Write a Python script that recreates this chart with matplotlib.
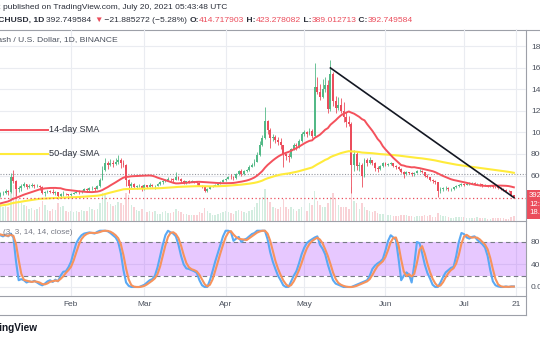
import matplotlib
matplotlib.use("Agg")
import matplotlib.pyplot as plt
from matplotlib.lines import Line2D
from matplotlib.patches import Rectangle
import numpy as np
import pandas as pd

# ---------------- data ----------------
start_date = "2021-01-04"

# closes before the visible range, only used to warm up the moving averages
prior_closes = [265, 270, 280, 285, 285, 295, 320, 310, 330, 350, 330, 285, 290, 300, 305, 320,
                305, 300, 310, 295, 300, 305, 300, 280, 285, 280, 270, 280, 290, 285, 285, 305,
                320, 315, 325, 335, 310, 300, 290, 300, 320, 330, 340, 350, 340, 340, 343,
                342, 352, 418]

closes = [405, 435, 438, 452, 445, 585, 550, 470, 480, 505, 520, 495, 505, 515, 500, 505, 495, 440, 445, 455, 448, 440, 445, 410, 425, 430, 425, 420,
          430, 440, 450, 445, 460, 470, 465, 480, 485, 478, 500, 560, 650, 720, 700, 720, 705, 725, 740, 715, 700, 560, 500, 520, 490, 500, 505, 480,
          510, 495, 515, 500, 505, 520, 540, 548, 560, 570, 565, 560, 590, 565, 545, 540, 545, 540, 545, 538, 532, 505, 495, 460, 470, 495, 505, 510, 525, 540, 555,
          570, 590, 585, 575, 610, 640, 610, 640, 650, 680, 700, 730, 790, 880, 950, 1110, 1020, 950, 960, 930, 910, 880, 800, 780, 770, 850, 880, 870, 920, 985,
          1000, 990, 1010, 970, 1420, 1380, 1330, 1400, 1440, 1220, 1540, 1290, 1230, 1260, 1200, 1140, 1100, 1080, 700, 800, 690, 700, 600, 740, 720, 740, 720, 670, 660, 690, 715,
          700, 708, 715, 690, 680, 665, 630, 615, 628, 622, 610, 625, 640, 645, 630, 600, 585, 555, 545, 535, 460, 470, 480, 485, 470, 475, 490, 505, 515, 520,
          515, 520, 525, 530, 520, 522, 518, 505, 510, 500, 505, 495, 490, 488, 475, 465, 460, 455, 414.717903, 392.749584]

highs = [432, 445, 452, 470, 468, 625, 650, 555, 505, 520, 535, 525, 520, 530, 520, 525, 515, 500, 455, 465, 462, 470, 455, 450, 435, 455, 440, 432,
         440, 448, 460, 462, 468, 485, 480, 495, 500, 495, 510, 580, 690, 760, 735, 750, 740, 760, 790, 760, 740, 705, 570, 540, 530, 515, 525, 510,
         520, 515, 530, 525, 515, 530, 548, 560, 572, 585, 580, 575, 632, 600, 575, 555, 552, 560, 558, 552, 545, 540, 512, 505, 480, 500, 512, 520, 535, 550, 565,
         580, 600, 610, 595, 625, 655, 660, 650, 665, 700, 715, 750, 820, 920, 975, 1240, 1115, 1040, 985, 975, 960, 950, 880, 810, 810, 860, 905, 900, 935, 1000,
         1020, 1015, 1040, 1030, 1645, 1520, 1450, 1500, 1520, 1490, 1675, 1560, 1340, 1330, 1320, 1280, 1190, 1150, 1100, 840, 830, 730, 720, 760, 760, 770, 745, 725, 690, 700, 725,
         730, 720, 730, 720, 700, 690, 670, 640, 640, 635, 630, 632, 648, 660, 650, 635, 610, 590, 565, 555, 540, 490, 495, 500, 492, 485, 495, 512, 525, 530,
         530, 532, 535, 540, 535, 532, 530, 522, 520, 515, 512, 510, 500, 498, 492, 480, 472, 468, 460, 423.278082]

lows = [372, 398, 418, 430, 420, 440, 530, 410, 445, 460, 495, 470, 485, 490, 485, 490, 465, 425, 410, 438, 435, 430, 420, 380, 400, 410, 415, 405,
        410, 425, 435, 430, 440, 455, 445, 455, 465, 460, 470, 495, 555, 640, 660, 690, 680, 695, 710, 670, 680, 500, 440, 480, 480, 470, 490, 460,
        465, 480, 490, 490, 475, 500, 515, 525, 540, 550, 548, 540, 555, 555, 530, 520, 525, 530, 535, 530, 515, 500, 485, 450, 445, 470, 490, 500, 505, 522, 535,
        550, 565, 570, 560, 570, 605, 595, 605, 630, 645, 675, 690, 725, 780, 870, 940, 990, 860, 920, 900, 880, 850, 680, 740, 730, 765, 840, 840, 860, 910,
        970, 960, 975, 950, 960, 1360, 1300, 1320, 1380, 1180, 1200, 1250, 1180, 1210, 1180, 1100, 1050, 1060, 440, 640, 650, 640, 490, 590, 690, 710, 700, 640, 630, 650, 680,
        690, 685, 700, 680, 665, 655, 620, 580, 605, 610, 595, 600, 620, 630, 620, 590, 575, 545, 530, 520, 400, 440, 455, 465, 455, 460, 465, 480, 495, 505,
        505, 508, 512, 518, 512, 510, 505, 495, 498, 490, 492, 485, 480, 478, 465, 455, 450, 445, 405, 389.012713]

volumes = [45, 40, 35, 38, 35, 80, 90, 85, 55, 45, 40, 38, 30, 32, 28, 30, 35, 50, 40, 28, 25, 30, 28, 45, 35, 38, 25, 22,
           25, 22, 25, 22, 28, 26, 24, 35, 30, 28, 30, 45, 70, 65, 48, 42, 38, 40, 48, 45, 40, 70, 65, 40, 35, 28, 25, 30,
           28, 22, 24, 22, 25, 18, 18, 22, 24, 20, 20, 22, 30, 25, 22, 18, 18, 16, 15, 14, 15, 22, 20, 32, 25, 20, 16, 14, 18, 20, 22,
           25, 22, 20, 18, 25, 28, 25, 22, 20, 25, 28, 35, 45, 55, 60, 80, 55, 48, 35, 32, 30, 35, 55, 35, 30, 35, 30, 25, 30, 35,
           30, 25, 45, 40, 75, 50, 40, 35, 35, 45, 60, 70, 55, 40, 35, 35, 35, 30, 85, 50, 45, 30, 45, 35, 28, 25, 22, 25, 20, 18, 18,
           18, 15, 15, 12, 12, 12, 16, 15, 14, 12, 12, 10, 12, 12, 12, 14, 12, 14, 10, 10, 20, 15, 12, 12, 10, 8, 8, 10, 10, 9,
           9, 8, 7, 8, 8, 9, 8, 8, 7, 6, 6, 7, 7, 7, 8, 7, 6, 6, 10, 12]

stoch_k = [95, 92, 90, 93, 90, 95, 88, 45, 12, 14, 12, 8, 10, 9, 11, 8, 5, 3, 6, 10, 12, 9, 13, 10, 20, 27, 28, 35,
           45, 62, 78, 86, 92, 95, 96, 97, 96, 95, 98, 100, 100, 100, 99, 96, 92, 88, 80, 60, 30, 8, 2, 0, 0, 0, 0, 2,
           4, 8, 12, 14, 20, 35, 55, 75, 92, 100, 97, 95, 90, 75, 55, 40, 33, 32, 30, 28, 25, 12, 3, 0, 0, 12, 28, 45, 60, 75, 90,
           100, 100, 98, 82, 86, 89, 80, 84, 86, 90, 94, 96, 100, 100, 100, 100, 85, 62, 45, 32, 20, 12, 3, 0, 0, 10, 20, 28, 42, 58,
           70, 78, 82, 85, 88, 90, 75, 68, 58, 40, 25, 12, 6, 4, 2, 0, 0, 0, 0, 2, 4, 6, 8, 10, 12, 20, 32, 38, 42, 45, 50,
           65, 82, 92, 88, 84, 50, 12, 20, 26, 22, 8, 40, 80, 78, 60, 40, 25, 15, 4, 0, 0, 8, 18, 26, 30, 34, 36, 55, 80, 96,
           94, 88, 86, 89, 90, 84, 80, 76, 70, 55, 30, 10, 3, 1, 0, 0, 1, 0, 1, 1]

fast_len = 20    # red average
slow_span = 100  # yellow average (exponential)

price_ticks = [600, 800, 1000, 1200, 1400, 1600, 1800]
stoch_ticks = [0, 40, 80]
stoch_band = (20, 80)
tick_dates = ["2021-02-01", "2021-03-01", "2021-04-01", "2021-05-01", "2021-06-01", "2021-07-01", "2021-07-21"]
tick_labels = ["Feb", "Mar", "Apr", "May", "Jun", "Jul", "21"]
last_price = 392.749584
level_price = 610
trend_dates = ["2021-05-11", "2021-07-20"]
trend_prices = [1600, 395]

# ---------------- style ----------------
UP = "#53b987"
DOWN = "#eb4d5c"
FONT = ["Liberation Sans", "DejaVu Sans"]
TXT = "#2a2e39"
GRID = "#eaecf1"
SEP = "#9da0a8"
RED_MA = "#f4515c"
YEL_MA = "#ffeb3b"

W, H = 540, 340
PX_DAY = 2.62
X0 = 0.878

fig = plt.figure(figsize=(W / 100, H / 100), dpi=100)
fig.patch.set_facecolor("white")
renderer = fig.canvas.get_renderer()


def pane(top, bottom):
    return fig.add_axes([0, 1 - bottom / H, 526 / W, (bottom - top) / H])


def day(d):
    return (pd.Timestamp(d) - pd.Timestamp(start_date)).days


def width_of(s, size, weight="normal"):
    t = fig.text(0, 0, s, fontsize=size, fontweight=weight, family=FONT)
    w = t.get_window_extent(renderer=renderer).width
    t.remove()
    return w


def fit(s, target, weight="normal", base=7.0):
    return base * target / width_of(s, base, weight)


def ftext(x, y, s, size, color=TXT, weight="normal", ha="left"):
    fig.text(x / W, 1 - y / H, s, fontsize=size, color=color, fontweight=weight,
             family=FONT, ha=ha, va="center")


def fline(xs, ys, color=SEP, lw=0.8):
    fig.add_artist(Line2D([v / W for v in xs], [1 - v / H for v in ys], color=color, lw=lw))


ax = pane(29, 221)
axs = pane(221, 296)
for a in (ax, axs):
    a.set_xlim(X0, X0 + 526 / PX_DAY)
    for sp in a.spines.values():
        sp.set_visible(False)
    a.tick_params(length=0)
ax.set_ylim(177, 1962)
axs.set_ylim(-16, 117.3)

n = len(closes)
x = np.arange(n)
c = np.array(closes, dtype=float)
o = np.r_[prior_closes[-1], c[:-1]]
hi = np.maximum(np.array(highs, dtype=float), np.maximum(o, c))
lo = np.minimum(np.array(lows, dtype=float), np.minimum(o, c))
colors = np.where(c >= o, UP, DOWN)

tick_x = [day(d) for d in tick_dates]

# grid
for p in price_ticks:
    ax.axhline(p, color=GRID, lw=0.8, zorder=0)
for tx in tick_x:
    ax.axvline(tx, color=GRID, lw=0.8, zorder=0)
    axs.axvline(tx, color=GRID, lw=0.8, zorder=0)
for v in (0, 40):
    axs.axhline(v, color=GRID, lw=0.8, zorder=0)

# volume underneath the candles
axv = ax.twinx()
axv.set_ylim(0, 100 * 192 / 40)
axv.bar(x, volumes, width=0.55, color=colors, alpha=0.25, lw=0)
axv.set_axis_off()
axv.set_zorder(1)
ax.set_zorder(2)
ax.patch.set_visible(False)

# candles
ax.vlines(x, lo, hi, colors=colors, lw=0.6, zorder=3)
body = np.maximum(np.abs(c - o), 4)
ax.bar(x, body, bottom=np.minimum(o, c), width=0.72, color=colors, lw=0, zorder=4)

# moving averages
allc = pd.Series(prior_closes + closes, dtype=float)
fast_ma = allc.rolling(fast_len).mean().to_numpy()[len(prior_closes):]
slow_ma = allc.ewm(span=slow_span).mean().to_numpy()[len(prior_closes):]
ax.plot(x, slow_ma, color=YEL_MA, lw=1.5, zorder=5)
ax.plot(x, fast_ma, color=RED_MA, lw=1.4, zorder=6)

# price levels and trend line
ax.axhline(level_price, color="#9598a1", lw=0.8, ls=(0, (1, 1.5)), zorder=2)
ax.axhline(last_price, color=DOWN, lw=0.9, ls=(0, (1, 2)), zorder=7)
ax.plot([day(d) for d in trend_dates], trend_prices, color="#131722", lw=1.2, zorder=8)

# drawn labels for the averages
leg_x = [X0 - 1, X0 + 48 / PX_DAY]
ax.plot(leg_x, [1023, 1023], color=RED_MA, lw=1.4, zorder=6, clip_on=False)
ax.plot(leg_x, [800, 800], color=YEL_MA, lw=1.5, zorder=6, clip_on=False)
leg_size = fit("14-day SMA", 50)
ftext(49, 130, "14-day SMA", leg_size)
ftext(49, 154, "50-day SMA", leg_size)

# price axis
ax.yaxis.tick_right()
ax.set_yticks(price_ticks)
ax.set_yticklabels([f"{p}.00" for p in price_ticks])
ax.tick_params(axis="y", labelsize=6.0, labelcolor="#4c525e", pad=3.6)
for lab in ax.get_yticklabels():
    lab.set_family(FONT)
ax.set_xticks([])

# stochastic RSI
k = pd.Series(stoch_k, dtype=float)
d = k.rolling(3, min_periods=1).mean()
axs.axhspan(stoch_band[0], stoch_band[1], color="#9915ff", alpha=0.23, lw=0, zorder=1)
for v in stoch_band:
    axs.axhline(v, color="#787b86", lw=0.8, ls=(0, (4, 3)), zorder=2)
axs.plot(x, k, color="#5aa9f4", lw=1.5, zorder=3)
axs.plot(x, d, color="#f7935c", lw=1.5, zorder=4)
axs.yaxis.tick_right()
axs.set_yticks(stoch_ticks)
axs.set_yticklabels([f"{v:.2f}" for v in stoch_ticks])
axs.tick_params(axis="y", labelsize=6.0, labelcolor="#4c525e", pad=3.2)
axs.set_xticks(tick_x)
axs.set_xticklabels(tick_labels)
axs.tick_params(axis="x", labelsize=6.0, labelcolor="#4c525e", pad=3.5)
for lab in axs.get_xticklabels() + axs.get_yticklabels():
    lab.set_family(FONT)
ftext(3, 232, "(3, 3, 14, 14, close)", fit("(3, 3, 14, 14, close)", 70), color="#787b86")

# pane borders
fline([0, 540], [29.5, 29.5])
fline([0, 526], [221, 221])
fline([0, 526], [296, 296])
fline([0, 526], [315, 315])
fline([526, 526], [29.5, 315])

# last price tag
fig.add_artist(Rectangle((526 / W, 1 - 219 / H), 16 / W, 29 / H, transform=fig.transFigure,
                         color=DOWN, lw=0))
for yy, s in zip([196, 205, 213], ["392.749584", "12:16:12", "18.54K"]):
    ftext(529, yy, s, 5.6, color="white")

# header
s1 = fit("published on TradingView.com, July 20, 2021 05:43:48 UTC", 222)
ftext(227, 7.5, "2 published on TradingView.com, July 20, 2021 05:43:48 UTC", s1, ha="right")

parts = [("BCHUSD, 1D ", TXT, "bold"), ("392.749584 ", TXT, "normal"), ("\u25bc", DOWN, "normal"),
         (" \u221221.885272 (\u22125.28%) ", TXT, "normal"), ("O:", TXT, "bold"),
         ("414.717903", DOWN, "normal"), (" H:", TXT, "bold"), ("423.278082", DOWN, "normal"),
         (" L:", TXT, "bold"), ("389.012713", DOWN, "normal"), (" C:", TXT, "bold"),
         ("392.749584", DOWN, "normal")]
base = 7.0
tail = sum(width_of(s, base, w) for s, _, w in parts[1:])
s2 = base * 364 / tail
widths = [width_of(s, s2, w) for s, _, w in parts]
xpos = 413 - sum(widths)
for (s, col, w), wd in zip(parts, widths):
    ftext(xpos, 20.5, s, s2, color=col, weight=w)
    xpos += wd

title = "Bitcoin Cash / U.S. Dollar, 1D, BINANCE"
ftext(118, 40, title, fit("ash / U.S. Dollar, 1D, BINANCE", 119), color="#4c525e", ha="right")

ftext(38, 328, "TradingView", fit("ingView", 38, "bold"), color="#131722", weight="bold", ha="right")

fig.savefig("out.png", dpi=100, facecolor="white")
